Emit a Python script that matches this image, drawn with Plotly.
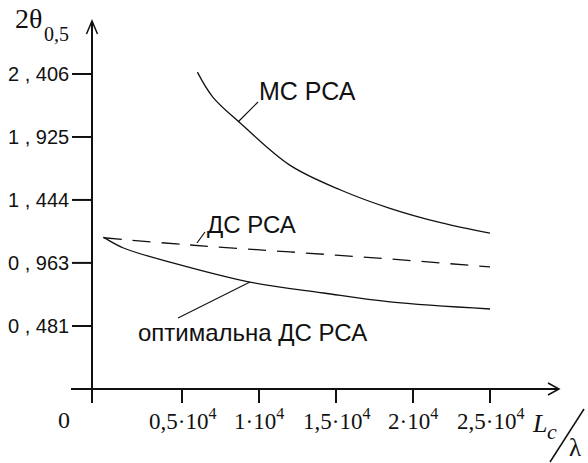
import plotly.graph_objects as go

# ---- data (x in units of 10^4) ----
ms_x = [0.6, 0.7, 0.88, 1.2, 1.53, 1.85, 2.18, 2.5]
ms_y = [2.42, 2.23, 2.03, 1.71, 1.52, 1.38, 1.27, 1.19]
ds_x = [-0.01, 0.55, 1.2, 1.85, 2.5]
ds_y = [1.155, 1.10, 1.047, 0.993, 0.932]
opt_x = [-0.01, 0.12, 0.44, 0.94, 1.42, 1.85, 2.5]
opt_y = [1.16, 1.077, 0.963, 0.817, 0.733, 0.665, 0.611]

y_ticks = [0.481, 0.963, 1.444, 1.925, 2.406]
y_tick_labels = ["0 , 481", "0 , 963", "1 , 444", "1 , 925", "2 , 406"]
x_ticks = [0.5, 1.0, 1.5, 2.0, 2.5]
x_tick_labels = ["0,5·10<sup>4</sup>", "1·10<sup>4</sup>", "1,5·10<sup>4</sup>",
                 "2·10<sup>4</sup>", "2,5·10<sup>4</sup>"]

# ---- pixel <-> data helpers (layout only) ----
W, H = 588, 463
X0, SX = 105.0, 154.0
Y0, SY = 388.97, 130.91


def dx(p):
    return (p - X0) / SX


def dy(q):
    return (Y0 - q) / SY


SERIF = "Liberation Serif, Times New Roman, serif"
SANS = "Liberation Sans, Arial, sans-serif"
INK = "#111111"

fig = go.Figure()
fig.add_trace(go.Scatter(x=ms_x, y=ms_y, mode="lines", line=dict(color=INK, width=1.3, shape="spline"),
                         showlegend=False, hoverinfo="skip"))
fig.add_trace(go.Scatter(x=ds_x, y=ds_y, mode="lines",
                         line=dict(color=INK, width=1.3, dash="18px,11px", shape="spline"),
                         showlegend=False, hoverinfo="skip"))
fig.add_trace(go.Scatter(x=opt_x, y=opt_y, mode="lines", line=dict(color=INK, width=1.3, shape="spline"),
                         showlegend=False, hoverinfo="skip"))

shapes = []
ax_x = dx(92)
# axes
shapes.append(dict(type="line", x0=dx(71), x1=dx(558), y0=0, y1=0, line=dict(color=INK, width=2)))
shapes.append(dict(type="line", x0=ax_x, x1=ax_x, y0=dy(403), y1=dy(22), line=dict(color=INK, width=2)))
# arrowheads
shapes.append(dict(type="path", path=f"M{dx(548)},{dy(383)} L{dx(559)},{dy(389)} L{dx(548)},{dy(395)}",
                   line=dict(color=INK, width=1.5)))
shapes.append(dict(type="path", path=f"M{dx(86.5)},{dy(34)} L{dx(92)},{dy(21)} L{dx(97.5)},{dy(34)}",
                   line=dict(color=INK, width=1.5)))
# ticks
for v in y_ticks:
    shapes.append(dict(type="line", x0=dx(72), x1=ax_x, y0=v, y1=v, line=dict(color=INK, width=2)))
for v in x_ticks:
    shapes.append(dict(type="line", x0=v, x1=v, y0=0, y1=dy(403), line=dict(color=INK, width=2)))
# leaders
shapes.append(dict(type="line", x0=dx(238), y0=dy(122), x1=dx(258), y1=dy(102), line=dict(color=INK, width=1.2)))
shapes.append(dict(type="line", x0=dx(197), y0=dy(243), x1=dx(205), y1=dy(232), line=dict(color=INK, width=1.2)))
shapes.append(dict(type="line", x0=dx(178), y0=dy(318), x1=dx(250), y1=dy(282), line=dict(color=INK, width=1.2)))
# slash in L_c / lambda
shapes.append(dict(type="line", x0=dx(550), y0=dy(462), x1=dx(584), y1=dy(409), line=dict(color=INK, width=1.5)))

ann = []
for v, t in zip(y_ticks, y_tick_labels):
    ann.append(dict(x=dx(71), y=v, text=t, showarrow=False, xanchor="right", yanchor="middle",
                    font=dict(family=SANS, size=20, color=INK)))
for v, t in zip(x_ticks, x_tick_labels):
    ann.append(dict(x=v, y=dy(419), text=t, showarrow=False, xanchor="center", yanchor="middle",
                    font=dict(family=SERIF, size=23, color=INK)))
ann.append(dict(x=dx(64), y=dy(420), text="0", showarrow=False, xanchor="center", yanchor="middle",
                font=dict(family=SERIF, size=24, color=INK)))
ann.append(dict(x=dx(13), y=dy(18), text="2θ", showarrow=False, xanchor="left", yanchor="middle",
                font=dict(family=SERIF, size=28, color=INK)))
ann.append(dict(x=dx(42), y=dy(34), text="0,5", showarrow=False, xanchor="left", yanchor="middle",
                font=dict(family=SERIF, size=20, color=INK)))
ann.append(dict(x=dx(530), y=dy(423), text="<i>L</i>", showarrow=False, xanchor="left", yanchor="middle",
                font=dict(family=SERIF, size=26, color=INK)))
ann.append(dict(x=dx(545), y=dy(431), text="<i>c</i>", showarrow=False, xanchor="left", yanchor="middle",
                font=dict(family=SERIF, size=22, color=INK)))
ann.append(dict(x=dx(575), y=dy(463), text="λ", showarrow=False, xanchor="center", yanchor="bottom",
                font=dict(family=SERIF, size=25, color=INK)))
ann.append(dict(x=dx(307), y=dy(91), text="МС РСА", showarrow=False, xanchor="center", yanchor="middle",
                font=dict(family=SANS, size=25, color=INK)))
ann.append(dict(x=dx(251), y=dy(224), text="ДС РСА", showarrow=False, xanchor="center", yanchor="middle",
                font=dict(family=SANS, size=24, color=INK)))
ann.append(dict(x=dx(252), y=dy(332), text="оптимальна ДС РСА", showarrow=False, xanchor="center",
                yanchor="middle", font=dict(family=SANS, size=24, color=INK)))

fig.update_layout(
    width=W, height=H, margin=dict(l=0, r=0, t=0, b=0),
    paper_bgcolor="white", plot_bgcolor="white",
    xaxis=dict(range=[dx(0), dx(W)], visible=False, fixedrange=True),
    yaxis=dict(range=[dy(H), dy(0)], visible=False, fixedrange=True),
    shapes=shapes, annotations=ann,
)
fig.write_html("out.html", config={"displayModeBar": False},
               post_script="document.body.style.margin='0';document.body.style.overflow='hidden';")
